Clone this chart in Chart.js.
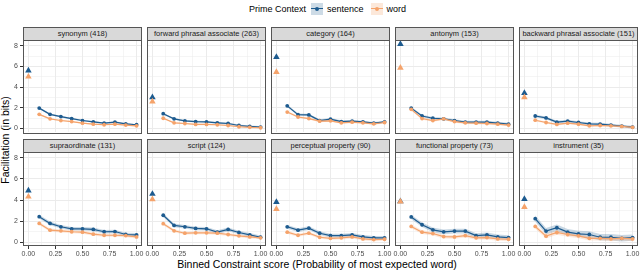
<!DOCTYPE html>
<html>
<head>
<meta charset="utf-8">
<script src="https://cdn.jsdelivr.net/npm/chart.js@4.4.0/dist/chart.umd.min.js"></script>
<style>
  body { margin: 0; width: 640px; height: 270px; background: #fff; position: relative; overflow: hidden;
         font-family: "Liberation Sans", Arial, sans-serif; }
  canvas { position: absolute; }
  .strip { position: absolute; background: #d9d9d9; border: 1px solid #555; box-sizing: border-box;
           font-size: 7.5px; color: #1a1a1a; text-align: center; white-space: nowrap; overflow: hidden; }
  .frame { position: absolute; border: 1px solid #555; box-sizing: border-box; pointer-events: none; }
  .title { position: absolute; font-size: 10.5px; color: #000; white-space: nowrap; }
  #legend { position: absolute; top: 2px; left: 249px; height: 13px; font-size: 9px; display: flex; align-items: center; }
  .key { width: 12px; height: 12px; position: relative; margin: 0 4px 0 5px; }
  .key.second { margin-left: 7px; }
  .key::before { content: ""; position: absolute; left: 0; right: 0; top: 5.5px; height: 1px; background: var(--c); }
  .key::after { content: ""; position: absolute; left: 4px; top: 4px; width: 4px; height: 4px; border-radius: 50%; background: var(--c); }
</style>
</head>
<body>
<div id="legend">Prime Context
  <span class="key" style="--c:#1d5b8f; background:rgba(29,91,143,0.22)"></span>sentence
  <span class="key second" style="--c:#f5a36b; background:rgba(245,163,107,0.25)"></span>word
</div>
<div class="title" style="left:-55px; top:134px; transform:rotate(-90deg); width:120px; text-align:center;">Facilitation (in bits)</div>
<div class="title" style="left:12px; width:610px; top:258px; text-align:center;">Binned Constraint score (Probability of most expected word)</div>

<script>
const panelNames = ['synonym (418)', 'forward phrasal associate (263)', 'category (164)', 'antonym (153)',
  'backward phrasal associate (151)', 'supraordinate (131)', 'script (124)', 'perceptual property (90)',
  'functional property (73)', 'instrument (35)'];

const bins = [0.1, 0.2, 0.3, 0.4, 0.5, 0.6, 0.7, 0.8, 0.9, 1.0];
const xTicks = [0, 0.25, 0.5, 0.75, 1];
const yTicks = [0, 2, 4, 6, 8];

// value at constraint 0 (triangles)
const primeSentence = [5.6, 3.0, 6.9, 8.15, 3.42, 4.9, 4.58, 3.81, 3.88, 4.1];
const primeWord = [5.0, 2.6, 5.44, 5.85, 3.0, 4.32, 4.06, 3.14, 3.85, 3.33];

const sentence = [
  [1.96, 1.36, 1.14, 0.95, 0.76, 0.63, 0.50, 0.60, 0.44, 0.35],
  [1.42, 0.92, 0.73, 0.66, 0.63, 0.54, 0.47, 0.28, 0.19, 0.13],
  [2.18, 1.33, 1.30, 0.76, 0.89, 0.66, 0.70, 0.63, 0.50, 0.63],
  [1.96, 1.20, 0.98, 0.92, 0.76, 0.60, 0.60, 0.60, 0.50, 0.41],
  [1.20, 1.01, 0.60, 0.70, 0.57, 0.44, 0.41, 0.32, 0.22, 0.13],
  [2.43, 1.79, 1.47, 1.28, 1.28, 1.22, 1.00, 1.02, 0.74, 0.70],
  [2.56, 1.60, 1.47, 1.31, 1.28, 0.96, 1.22, 0.93, 0.70, 0.48],
  [1.47, 1.15, 1.34, 0.86, 0.64, 0.64, 0.70, 0.51, 0.42, 0.42],
  [2.40, 1.66, 1.18, 0.99, 1.06, 1.06, 0.64, 0.70, 0.51, 0.45],
  [2.24, 1.06, 1.38, 0.96, 0.80, 0.74, 0.48, 0.48, 0.38, 0.45]
];
const word = [
  [1.36, 0.92, 0.76, 0.66, 0.50, 0.41, 0.35, 0.41, 0.32, 0.25],
  [0.98, 0.54, 0.47, 0.38, 0.38, 0.35, 0.28, 0.16, 0.10, 0.06],
  [1.58, 1.10, 0.95, 0.70, 0.73, 0.54, 0.60, 0.54, 0.44, 0.57],
  [1.84, 0.95, 0.76, 0.92, 0.66, 0.54, 0.50, 0.47, 0.41, 0.32],
  [0.79, 0.57, 0.38, 0.50, 0.41, 0.25, 0.28, 0.25, 0.19, 0.10],
  [1.79, 1.15, 1.09, 1.00, 0.96, 0.77, 0.67, 0.67, 0.64, 0.51],
  [1.76, 1.09, 0.86, 0.90, 0.90, 0.86, 0.74, 0.61, 0.51, 0.42],
  [0.96, 0.67, 0.86, 0.48, 0.38, 0.42, 0.51, 0.32, 0.26, 0.29],
  [1.50, 0.96, 0.83, 0.54, 0.51, 0.64, 0.42, 0.45, 0.32, 0.29],
  [1.50, 0.58, 0.93, 0.74, 0.61, 0.38, 0.38, 0.32, 0.38, 0.32]
];
// half width of the confidence ribbon
const bandSentence = [0.08, 0.09, 0.12, 0.13, 0.13, 0.17, 0.17, 0.18, 0.22, 0.30];
const bandWord = [0.06, 0.07, 0.10, 0.11, 0.10, 0.15, 0.14, 0.15, 0.18, 0.22];

const BLUE = '#1d5b8f', ORANGE = '#f5a36b';
const BLUE_FILL = 'rgba(29,91,143,0.24)', ORANGE_FILL = 'rgba(245,163,107,0.24)';

const PL = 23, PW = 119, GAP = 5, STRIP_H = 13, PANEL_H = 94;
const rowTop = [40, 40 + PANEL_H + GAP + STRIP_H];
const PAD = 8, PAD_T = 5, X_AXIS_H = 14;

// minor grid lines sit half way between the majors
const between = t => t.slice(1).map((v, k) => (v + t[k]) / 2);
const xAll = xTicks.concat(between(xTicks));
const yAll = yTicks.concat(between(yTicks));

function makePanel(i) {
  const col = i % 5, row = Math.floor(i / 5);
  const px = PL + col * (PW + GAP), py = rowTop[row];

  const strip = document.createElement('div');
  strip.className = 'strip';
  strip.style.cssText = `left:${px}px; top:${py - STRIP_H}px; width:${PW}px; height:${STRIP_H + 1}px; line-height:${STRIP_H - 1}px;`;
  strip.textContent = panelNames[i];
  document.body.appendChild(strip);

  const yW = col === 0 ? PL : 0;
  const padL = col === 0 ? 0 : PAD;
  const xH = row === 1 ? X_AXIS_H : 0;
  const canvas = document.createElement('canvas');
  canvas.width = yW + padL + PW + PAD;
  canvas.height = PAD_T + PANEL_H + xH + 2;
  canvas.style.left = (px - yW - padL) + 'px';
  canvas.style.top = (py - PAD_T) + 'px';
  document.body.appendChild(canvas);

  const frame = document.createElement('div');
  frame.className = 'frame';
  frame.style.cssText = `left:${px}px; top:${py}px; width:${PW}px; height:${PANEL_H}px;`;
  document.body.appendChild(frame);

  const xy = (vals, d) => bins.map((x, k) => ({ x: x, y: vals[k] + d }));
  const isMajor = (list, v) => list.includes(v);

  new Chart(canvas.getContext('2d'), {
    type: 'line',
    data: {
      datasets: [
        { data: xy(sentence[i], -bandSentence[i]), pointRadius: 0, borderWidth: 0, fill: false, order: 10 },
        { data: xy(sentence[i], bandSentence[i]), pointRadius: 0, borderWidth: 0, fill: '-1', backgroundColor: BLUE_FILL, order: 10 },
        { data: xy(word[i], -bandWord[i]), pointRadius: 0, borderWidth: 0, fill: false, order: 9 },
        { data: xy(word[i], bandWord[i]), pointRadius: 0, borderWidth: 0, fill: '-1', backgroundColor: ORANGE_FILL, order: 9 },
        { data: xy(sentence[i], 0), borderColor: BLUE, borderWidth: 1.2, pointRadius: 1.9, pointBorderWidth: 0,
          pointBackgroundColor: BLUE, order: 6 },
        { data: xy(word[i], 0), borderColor: ORANGE, borderWidth: 1.2, pointRadius: 1.9, pointBorderWidth: 0,
          pointBackgroundColor: ORANGE, order: 5 },
        { data: [{ x: 0, y: primeSentence[i] }], showLine: false, pointStyle: 'triangle', pointRadius: 3.8,
          pointBorderWidth: 0, pointBackgroundColor: BLUE, order: 3 },
        { data: [{ x: 0, y: primeWord[i] }], showLine: false, pointStyle: 'triangle', pointRadius: 3.8,
          pointBorderWidth: 0, pointBackgroundColor: ORANGE, order: 2 }
      ]
    },
    options: {
      responsive: false, animation: false, events: [],
      layout: { padding: { left: padL, right: PAD, top: PAD_T, bottom: 2 } },
      datasets: { line: { clip: false, tension: 0 } },
      plugins: { legend: { display: false }, tooltip: { enabled: false } },
      scales: {
        x: {
          type: 'linear', min: -0.05, max: 1.05,
          afterBuildTicks: s => { s.ticks = xAll.map(v => ({ value: v })); },
          afterFit: s => { s.height = xH; s.paddingLeft = 0; s.paddingRight = 0; },
          ticks: { display: row === 1, autoSkip: false, maxRotation: 0, padding: 1, color: '#4d4d4d',
                   font: { size: 7, family: '"Liberation Sans", Arial' },
                   callback: v => isMajor(xTicks, v) ? v.toFixed(2) : '' },
          grid: { color: '#ebebeb', lineWidth: c => isMajor(xTicks, c.tick.value) ? 1 : 0.5,
                  drawTicks: row === 1, tickLength: 3,
                  tickColor: c => isMajor(xTicks, c.tick.value) ? '#333' : 'rgba(0,0,0,0)' },
          border: { display: false }
        },
        y: {
          min: -0.35, max: 8.55,
          afterBuildTicks: s => { s.ticks = yAll.map(v => ({ value: v })); },
          afterFit: s => { s.width = yW; s.paddingTop = 0; s.paddingBottom = 0; },
          ticks: { display: col === 0, autoSkip: false, padding: 2, color: '#4d4d4d',
                   font: { size: 7, family: '"Liberation Sans", Arial' },
                   callback: v => isMajor(yTicks, v) ? String(v) : '' },
          grid: { color: '#ebebeb', lineWidth: c => isMajor(yTicks, c.tick.value) ? 1 : 0.5,
                  drawTicks: col === 0, tickLength: 3,
                  tickColor: c => isMajor(yTicks, c.tick.value) ? '#333' : 'rgba(0,0,0,0)' },
          border: { display: false }
        }
      }
    }
  });
}

for (let i = 0; i < panelNames.length; i++) makePanel(i);
</script>
</body>
</html>
